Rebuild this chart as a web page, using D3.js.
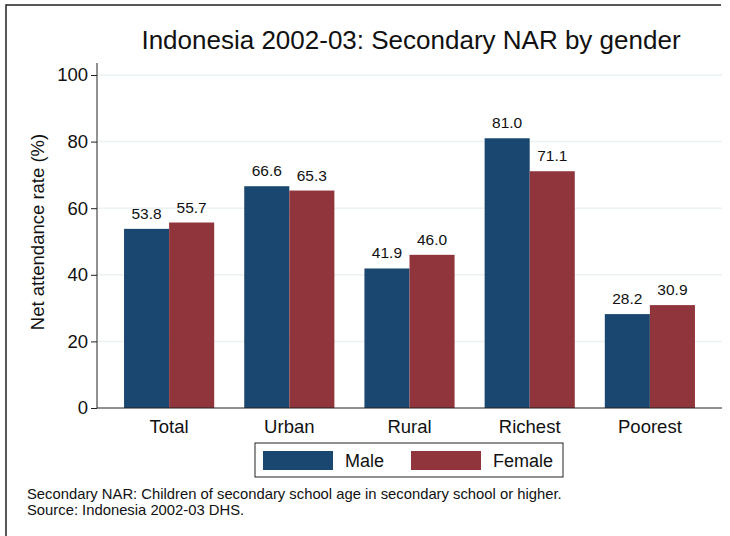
<!DOCTYPE html>
<html>
<head>
<meta charset="utf-8">
<script src="https://cdn.jsdelivr.net/npm/d3@7"></script>
<style>
body { margin: 0; background: #fff; }
svg { font-family: "Liberation Sans", Arial, sans-serif; }
</style>
</head>
<body>
<div id="chart"></div>
<script>
var categories = ["Total", "Urban", "Rural", "Richest", "Poorest"],
    series = ["Male", "Female"],
    maleValues = [53.8, 66.6, 41.9, 81.0, 28.2],
    femaleValues = [55.7, 65.3, 46.0, 71.1, 30.9],
    yTicks = [0, 20, 40, 60, 80, 100],
    colors = ["#1a476f", "#90353b"],
    notes = ["Secondary NAR: Children of secondary school age in secondary school or higher.",
             "Source: Indonesia 2002-03 DHS."];

var width = 730, height = 536;
var plot = { left: 97, right: 722, top: 63, bottom: 408 };

var svg = d3.select("#chart").append("svg").attr("width", width).attr("height", height);

// outer frame (top and left edges visible)
svg.append("path").attr("d", "M6,536V5H721").attr("fill", "none").attr("stroke", "#222").attr("stroke-width", 1.5);

var x0 = d3.scaleBand().domain(categories).range([plot.left, plot.right]).paddingInner(0.25).paddingOuter(0.225);
var x1 = d3.scaleBand().domain(series).range([0, x0.bandwidth()]);
var y = d3.scaleLinear().domain([0, 100]).range([plot.bottom, 75]);

// gridlines
svg.append("g").selectAll("line").data(yTicks.filter(function(d) { return d > 0; })).enter().append("line")
    .attr("x1", plot.left).attr("x2", plot.right)
    .attr("y1", function(d) { return y(d); }).attr("y2", function(d) { return y(d); })
    .attr("stroke", "#eaf2f3").attr("stroke-width", 1.5);

var data = categories.map(function(c, i) {
    return { cat: c, vals: [{ s: "Male", v: maleValues[i] }, { s: "Female", v: femaleValues[i] }] };
});

var groups = svg.append("g").selectAll("g").data(data).enter().append("g")
    .attr("transform", function(d) { return "translate(" + x0(d.cat) + ",0)"; });

groups.selectAll("rect").data(function(d) { return d.vals; }).enter().append("rect")
    .attr("x", function(d) { return x1(d.s); })
    .attr("y", function(d) { return y(d.v); })
    .attr("width", x1.bandwidth())
    .attr("height", function(d) { return y(0) - y(d.v); })
    .attr("fill", function(d, i) { return colors[i]; });

groups.selectAll("text").data(function(d) { return d.vals; }).enter().append("text")
    .attr("x", function(d) { return x1(d.s) + x1.bandwidth() / 2; })
    .attr("y", function(d) { return y(d.v) - 10; })
    .attr("text-anchor", "middle").style("font-size", "15.5px").attr("fill", "#111")
    .text(function(d) { return d.v.toFixed(1); });

// y axis
var yAxis = d3.axisLeft(y).tickValues(yTicks).tickSize(6).tickPadding(3);
var ya = svg.append("g").attr("transform", "translate(" + plot.left + ",0)").call(yAxis);
ya.select(".domain").remove();
ya.append("line").attr("x1", 0).attr("x2", 0).attr("y1", plot.top).attr("y2", plot.bottom).attr("stroke", "#222");
ya.selectAll(".tick line").attr("stroke", "#222");
ya.selectAll("text").style("font-size", "18.5px").attr("fill", "#111").attr("font-family", "Liberation Sans, Arial, sans-serif");

// x axis
var xAxis = d3.axisBottom(x0).tickSize(0).tickPadding(12);
var xa = svg.append("g").attr("transform", "translate(0," + plot.bottom + ")").call(xAxis);
xa.select(".domain").remove();
xa.append("line").attr("x1", plot.left).attr("x2", plot.right).attr("y1", 0).attr("y2", 0).attr("stroke", "#222");
xa.selectAll("text").style("font-size", "18.5px").attr("fill", "#111").attr("font-family", "Liberation Sans, Arial, sans-serif");

// y label
svg.append("text").attr("transform", "translate(44,232) rotate(-90)")
    .attr("text-anchor", "middle").style("font-size", "18.5px").attr("fill", "#111")
    .text("Net attendance rate (%)");

// title
svg.append("text").attr("x", 411).attr("y", 49).attr("text-anchor", "middle")
    .style("font-size", "26px").attr("fill", "#111")
    .text("Indonesia 2002-03: Secondary NAR by gender");

// legend
var legend = svg.append("g");
legend.append("rect").attr("x", 255).attr("y", 443).attr("width", 308).attr("height", 34)
    .attr("fill", "#fff").attr("stroke", "#222").attr("stroke-width", 1);
var lx = [263, 411];
series.forEach(function(s, i) {
    legend.append("rect").attr("x", lx[i]).attr("y", 451).attr("width", 70).attr("height", 19).attr("fill", colors[i]);
    legend.append("text").attr("x", lx[i] + 82).attr("y", 467).style("font-size", "18px").attr("fill", "#111").text(s);
});

// notes
svg.append("g").selectAll("text").data(notes).enter().append("text")
    .attr("x", 27).attr("y", function(d, i) { return 499 + i * 16; })
    .style("font-size", "14.8px").attr("fill", "#111")
    .text(function(d) { return d; });
</script>
</body>
</html>
